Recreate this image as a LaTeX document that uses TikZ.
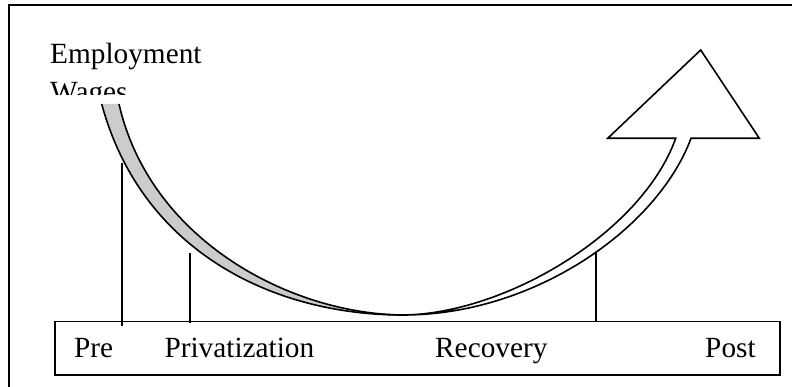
\documentclass[tikz,border=0pt]{standalone}
\usepackage{fontspec}
\setmainfont{Liberation Serif}
\begin{document}
\begin{tikzpicture}[x=1pt,y=-1pt,
  lbl/.style={inner sep=0pt, anchor=base west, font=\fontsize{29.3}{35}\selectfont},
  curveline/.style={line width=1.6pt, line join=miter},
  tickline/.style={line width=1.5pt},
  framebox/.style={line width=1.8pt}]
\useasboundingbox (0,0) rectangle (792,387);
% outer frame (runs off right and bottom)
\draw[framebox] (9,400) -- (9,5) -- (800,5);
% labels at top left
\node[lbl] (emp) at (50,64) {Employment};
\begin{scope}
  \clip (40,70) rectangle (230,94.5);
  \node[lbl] (wag) at (50,102) {Wages};
\end{scope}
% key points of the arrow
\coordinate (lo) at (101.7,104);
\coordinate (li) at (119,104);
\coordinate (m) at (403,315);
\coordinate (su) at (675.7,138.3);
\coordinate (sl) at (691,138.3);
\coordinate (hl) at (607.7,138.3);
\coordinate (ha) at (700.7,50);
\coordinate (hr) at (759.3,138.3);
% grey back part of the arrow
\fill[gray!40] (lo) .. controls (140.9,249) and (270,315) .. (m)
   .. controls (290,314) and (150,240) .. (li) -- cycle;
\draw[curveline] (lo) .. controls (140.9,249) and (270,315) .. (m);
\draw[curveline] (li) .. controls (150,240) and (290,314) .. (m);
% white front part with arrowhead
\draw[curveline] (m) .. controls (505,314) and (641.8,233) .. (su)
   -- (hl) -- (ha) -- (hr) -- (sl)
   .. controls (657.7,228) and (535,315) .. (m);
% bottom bar
\node[draw, line width=1.5pt, inner sep=0pt, minimum width=725pt, minimum height=53.3pt, anchor=north west] (bar) at (54,320.7) {};
\node[lbl] (pre) at (74,357.3) {Pre};
\node[lbl] (priv) at (164.3,357.3) {Privatization};
\node[lbl] (rec) at (435,357.3) {Recovery};
\node[lbl] (post) at (705,357.3) {Post};
% tick lines
\coordinate (preT) at (122,162.7);
\coordinate (preB) at (122,326);
\coordinate (privT) at (190,253.3);
\coordinate (privB) at (190,323.3);
\coordinate (recT) at (596,253.3);
\coordinate (recB) at (596,320.7);
\draw[tickline] (preT) -- (preB);
\draw[tickline] (privT) -- (privB);
\draw[tickline] (recT) -- (recB);
\end{tikzpicture}
\end{document}
